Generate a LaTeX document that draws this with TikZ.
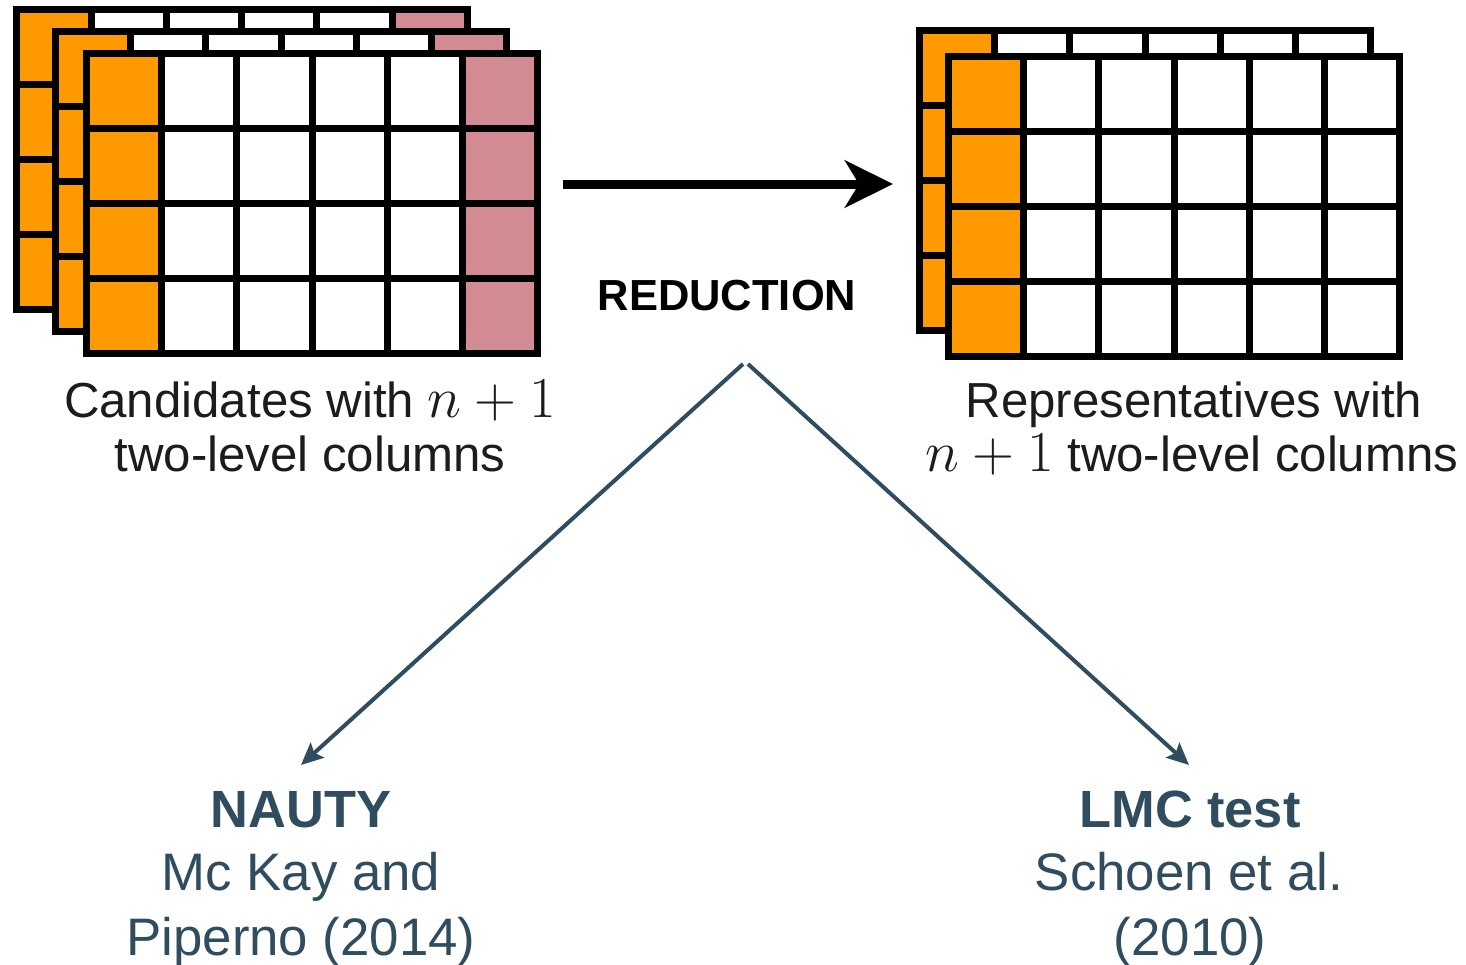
\RequirePackage{fix-cm}
\documentclass[tikz,border=0pt]{standalone}
\usepackage{fontspec}
\setmainfont{Liberation Sans}
\usetikzlibrary{arrows.meta}

\definecolor{cellorange}{RGB}{255,153,0}
\definecolor{cellpink}{RGB}{211,139,147}
\definecolor{slate}{RGB}{47,77,95}
\definecolor{inkdark}{RGB}{28,28,28}

\tikzset{
  gridline/.style={black, line width=3.5pt, line join=miter, line cap=rect},
  captiontext/.style={font=\fontsize{24.6pt}{27.5pt}\selectfont, text=inkdark, inner sep=0pt, anchor=base},
  methodtitle/.style={font=\fontsize{26.2pt}{31pt}\selectfont\bfseries, text=slate, inner sep=0pt, anchor=base},
  methodref/.style={font=\fontsize{26.4pt}{31pt}\selectfont, text=slate, inner sep=0pt, anchor=base},
  steplabel/.style={font=\fontsize{21.75pt}{24pt}\selectfont\bfseries, text=black, inner sep=0pt, anchor=base},
  bigarrow/.style={black, line width=4.5pt, -{Stealth[length=24pt,width=23.5pt,inset=7pt]}},
  forkarrow/.style={slate, line width=2pt, -{Stealth[length=11pt,width=10pt,inset=2pt]}}
}

% the column count n+1, set a little larger than the caption text
\newcommand\colcount{{\fontsize{29pt}{27.5pt}\selectfont$n+1$}}

% One design sheet: 4 rows x 6 two-level columns, first column orange,
% last column filled with #3; #1,#2 is the top-left corner (line centre).
\newcommand\designsheet[3]{%
  \begin{scope}[shift={(#1,#2)}]
    \fill[white] (0,0) rectangle (451.2,300);
    \fill[cellorange] (0,0) rectangle (75.2,300);
    \fill[#3] (376,0) rectangle (451.2,300);
    \foreach \ci in {1,...,5} \draw[gridline] (\ci*75.2,0) -- (\ci*75.2,300);
    \foreach \ri in {1,2,3} \draw[gridline] (0,\ri*75) -- (451.2,\ri*75);
    \draw[gridline] (0,0) rectangle (451.2,300);
  \end{scope}}

\begin{document}
\begin{tikzpicture}[x=0.5pt, y=-0.5pt]
  \useasboundingbox (0,0) rectangle (1466,964);
  \fill[white] (0,0) rectangle (1466,964);

  % candidate designs (stack of three)
  \designsheet{16}{9.5}{cellpink}
  \designsheet{55.5}{31.5}{cellpink}
  \designsheet{86.5}{53.5}{cellpink}

  % representative designs (stack of two)
  \designsheet{919.5}{30.5}{white}
  \designsheet{948.5}{56.5}{white}

  % captions
  \node[captiontext] (cand1) at (310,417) {Candidates with \colcount};
  \node[captiontext] (cand2) at (310,471) {two-level columns};
  \node[captiontext] (reps1) at (1194,417) {Representatives with};
  \node[captiontext] (reps2) at (1192,471) {\colcount{} two-level columns};

  % reduction step
  \coordinate (redstart) at (563,184);
  \coordinate (redend) at (893,184);
  \draw[bigarrow] (redstart) -- (redend);
  \node[steplabel] (reduction) at (727,310) {REDUCTION};

  % two ways of carrying out the reduction
  \node[methodtitle] (nauty) at (301,827) {NAUTY};
  \node[methodref] (nauty2) at (301,890) {Mc Kay and};
  \node[methodref] (nauty3) at (301,955) {Piperno (2014)};
  \node[methodtitle] (lmc) at (1190,827) {LMC test};
  \node[methodref] (lmc2) at (1189,890) {Schoen et al.};
  \node[methodref] (lmc3) at (1190,955) {(2010)};

  \coordinate (forkL) at (743,364);
  \coordinate (forkR) at (748,364);
  \coordinate (nautyin) at (301,765);
  \coordinate (lmcin) at (1189,765);
  \draw[forkarrow] (forkL) -- (nautyin);
  \draw[forkarrow] (forkR) -- (lmcin);
\end{tikzpicture}
\end{document}
